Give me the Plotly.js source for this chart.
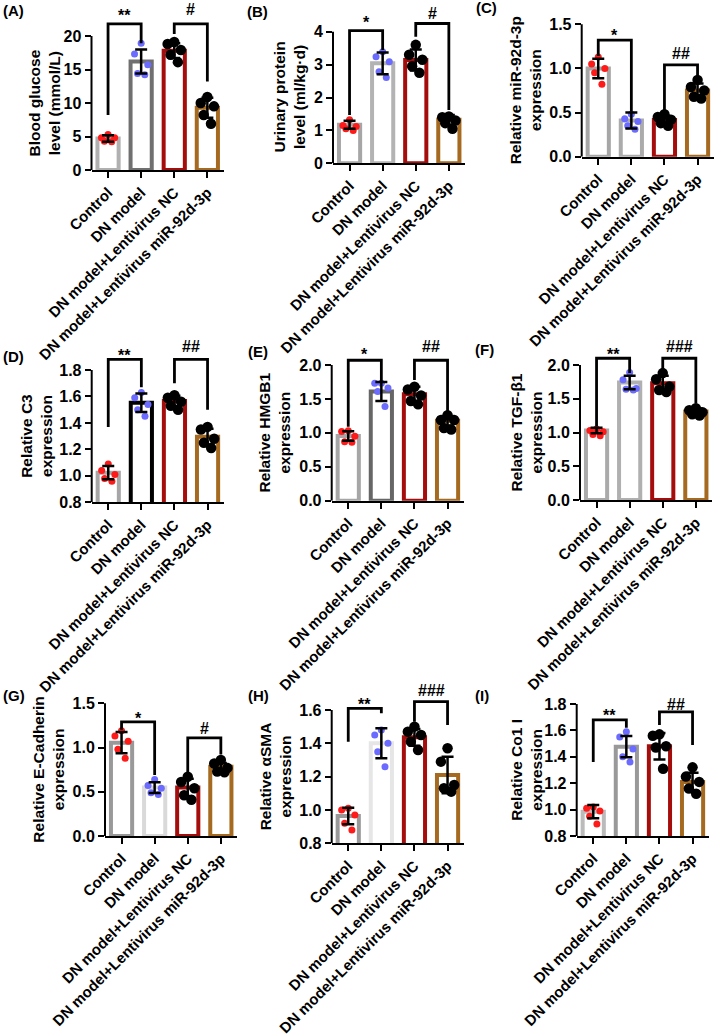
<!DOCTYPE html>
<html>
<head>
<meta charset="utf-8">
<script src="https://cdn.plot.ly/plotly-3.0.1.min.js"></script>
<style>body{margin:0;background:#fff}#chart{width:720px;height:1035px}</style>
</head>
<body>
<div id="chart"></div>
<script>
const groups = ['Control', 'DN model', 'DN model+Lentivirus NC', 'DN model+Lentivirus miR-92d-3p'];

// each panel: dots per group, bar mean, SD, brackets [from, to, leftEnd, rightEnd, top, labelY, label], y ticks
const glucoseDots = [[5.3, 4.8, 4.8, 4.3, 4.2], [18.9, 17.3, 15.7, 14.4, 14.2], [19.1, 18.8, 17.9, 17.2, 16.1], [10.9, 10.0, 9.5, 8.2, 6.9]];
const glucoseMean = [4.7, 16.2, 17.8, 9.3];
const glucoseSd = [0.5, 1.8, 1.1, 1.5];
const glucoseSig = [[0, 1, 8.2, 18.9, 21.8, 23.6, '**'], [2, 3, 20.3, 13.2, 21.8, 23.9, '#']];
const glucoseTicks = [0, 5, 10, 15, 20];

const proteinDots = [[1.32, 1.15, 1.12, 1.05, 1.0], [3.39, 3.24, 3.09, 2.78, 2.61], [3.6, 3.3, 3.15, 2.95, 2.75], [1.42, 1.40, 1.30, 1.22, 1.05]];
const proteinMean = [1.17, 3.04, 3.14, 1.32];
const proteinSd = [0.12, 0.33, 0.32, 0.15];
const proteinSig = [[0, 1, 1.47, 3.44, 4.03, 4.40, '*'], [2, 3, 3.85, 1.62, 4.25, 4.56, '#']];
const proteinTicks = [0, 1, 2, 3, 4];

const mirDots = [[1.13, 1.05, 1.0, 0.95, 0.82], [0.48, 0.43, 0.40, 0.35, 0.31], [0.48, 0.45, 0.42, 0.38, 0.35], [0.87, 0.79, 0.75, 0.68, 0.66]];
const mirMean = [1.0, 0.41, 0.415, 0.75];
const mirSd = [0.11, 0.09, 0.05, 0.08];
const mirSig = [[0, 1, 1.14, 0.51, 1.32, 1.42, '*'], [2, 3, 0.53, 0.91, 1.04, 1.17, '##']];
const mirTicks = [0, 0.5, 1.0, 1.5];

const c3Dots = [[1.09, 1.04, 1.01, 0.98, 0.96], [1.63, 1.59, 1.54, 1.50, 1.45], [1.61, 1.59, 1.56, 1.53, 1.50], [1.37, 1.35, 1.28, 1.25, 1.21]];
const c3Mean = [1.024, 1.553, 1.566, 1.296];
const c3Sd = [0.05, 0.07, 0.04, 0.06];
const c3Sig = [[0, 1, 1.37, 1.67, 1.88, 1.94, '**'], [2, 3, 1.70, 1.50, 1.88, 1.98, '##']];
const c3Ticks = [0.8, 1.0, 1.2, 1.4, 1.6, 1.8];

const hmgb1Dots = [[1.03, 1.02, 0.95, 0.87, 0.86], [1.73, 1.73, 1.66, 1.61, 1.39], [1.68, 1.64, 1.55, 1.47, 1.42], [1.26, 1.19, 1.19, 1.07, 1.05]];
const hmgb1Mean = [0.953, 1.61, 1.57, 1.18];
const hmgb1Sd = [0.07, 0.14, 0.11, 0.07];
const hmgb1Sig = [[0, 1, 1.09, 1.75, 2.07, 2.22, '*'], [2, 3, 1.78, 1.31, 2.07, 2.27, '##']];
const hmgb1Ticks = [0, 0.5, 1.0, 1.5, 2.0];

const tgfDots = [[1.05, 1.03, 1.01, 0.97, 0.95], [1.89, 1.78, 1.65, 1.64, 1.63], [1.88, 1.79, 1.68, 1.63, 1.60], [1.36, 1.33, 1.30, 1.27, 1.25]];
const tgfMean = [1.03, 1.74, 1.73, 1.31];
const tgfSd = [0.04, 0.1, 0.11, 0.05];
const tgfSig = [[0, 1, 1.09, 1.88, 2.10, 2.21, '**'], [2, 3, 1.93, 1.43, 2.10, 2.27, '###']];
const tgfTicks = [0, 0.5, 1.0, 1.5, 2.0];

const ecadDots = [[1.19, 1.13, 1.07, 0.98, 0.88], [0.64, 0.57, 0.54, 0.49, 0.47], [0.67, 0.61, 0.54, 0.46, 0.41], [0.86, 0.82, 0.77, 0.73, 0.72]];
const ecadMean = [1.055, 0.547, 0.547, 0.784];
const ecadSd = [0.12, 0.06, 0.1, 0.04];
const ecadSig = [[0, 1, 1.20, 0.69, 1.29, 1.37, '*'], [2, 3, 0.71, 0.92, 1.11, 1.22, '#']];
const ecadTicks = [0, 0.5, 1.0, 1.5];

const smaDots = [[1.01, 1.0, 0.97, 0.92, 0.88], [1.48, 1.45, 1.40, 1.35, 1.26], [1.50, 1.47, 1.45, 1.41, 1.36], [1.37, 1.29, 1.15, 1.13, 1.11]];
const smaMean = [0.964, 1.40, 1.436, 1.21];
const smaSd = [0.05, 0.09, 0.05, 0.11];
const smaSig = [[0, 1, 1.41, 1.58, 1.61, 1.66, '**'], [2, 3, 1.53, 1.51, 1.65, 1.72, '###']];
const smaTicks = [0.8, 1.0, 1.2, 1.4, 1.6];

const colDots = [[1.02, 1.01, 0.99, 0.95, 0.89], [1.59, 1.55, 1.46, 1.40, 1.36], [1.57, 1.56, 1.48, 1.47, 1.31], [1.32, 1.25, 1.21, 1.16, 1.12]];
const colMean = [0.984, 1.477, 1.48, 1.21];
const colSd = [0.05, 0.08, 0.1, 0.07];
const colSig = [[0, 1, 1.36, 1.62, 1.68, 1.74, '**'], [2, 3, 1.64, 1.49, 1.74, 1.80, '##']];
const colTicks = [0.8, 1.0, 1.2, 1.4, 1.6, 1.8];

const FONT = '"Liberation Sans", Arial, sans-serif';
const W = 720, H = 1035, plotW = 132.4;
const NC_COLOR = '#a50d0d', MIR_COLOR = '#a5691f';
const dotColor = ['#ff1a1a', '#6b6bff', '#000000', '#000000'];
const jitter = [0, -0.2, 0.2, -0.11, 0.11];

// ax: y-axis x pixel, y0: bottom pixel, yt: top tick pixel, tx: title offset, lx/ly: panel tag
const panels = [
  {tag: '(A)', title: 'Blood glucose<br>level (mmol/L)', dots: glucoseDots, mean: glucoseMean, sd: glucoseSd, sig: glucoseSig, ticks: glucoseTicks, dec: 0,
   edge: ['#b0b0b0', '#707070'], ax: 91.5, y0: 170, yt: 36, tx: -48, lx: 1, ly: 10},
  {tag: '(B)', title: 'Urinary protein<br>level (ml/kg·d)', dots: proteinDots, mean: proteinMean, sd: proteinSd, sig: proteinSig, ticks: proteinTicks, dec: 0,
   edge: ['#a6a6a6', '#b3b3b3'], ax: 333, y0: 163.3, yt: 31.7, tx: -44, lx: 245, ly: 11},
  {tag: '(C)', title: 'Relative miR-92d-3p<br>expression', dots: mirDots, mean: mirMean, sd: mirSd, sig: mirSig, ticks: mirTicks, dec: 1,
   edge: ['#a6a6a6', '#ababab'], ax: 581.7, y0: 156.7, yt: 24.3, tx: -56, lx: 474, ly: 8},
  {tag: '(D)', title: 'Relative C3<br>expression', dots: c3Dots, mean: c3Mean, sd: c3Sd, sig: c3Sig, ticks: c3Ticks, dec: 1,
   edge: ['#a6a6a6', '#000000'], ax: 91.7, y0: 502.3, yt: 370, tx: -56, lx: 1, ly: 356},
  {tag: '(E)', title: 'Relative HMGB1<br>expression', dots: hmgb1Dots, mean: hmgb1Mean, sd: hmgb1Sd, sig: hmgb1Sig, ticks: hmgb1Ticks, dec: 1,
   edge: ['#a6a6a6', '#666666'], ax: 331.7, y0: 500.7, yt: 365, tx: -57, lx: 246, ly: 351},
  {tag: '(F)', title: 'Relative TGF-β1<br>expression', dots: tgfDots, mean: tgfMean, sd: tgfSd, sig: tgfSig, ticks: tgfTicks, dec: 1,
   edge: ['#aaaaaa', '#b0b0b0'], ax: 580, y0: 500, yt: 365, tx: -54, lx: 473, ly: 350},
  {tag: '(G)', title: 'Relative E-Cadherin<br>expression', dots: ecadDots, mean: ecadMean, sd: ecadSd, sig: ecadSig, ticks: ecadTicks, dec: 1,
   edge: ['#999999', '#d9d9d9'], ax: 105, y0: 836, yt: 703.3, tx: -56, lx: 1, ly: 695},
  {tag: '(H)', title: 'Relative αSMA<br>expression', dots: smaDots, mean: smaMean, sd: smaSd, sig: smaSig, ticks: smaTicks, dec: 1,
   edge: ['#999999', '#e6e6e6'], ax: 331.7, y0: 843.3, yt: 710, tx: -56, lx: 246, ly: 695},
  {tag: '(I)', title: 'Relative Co1 I<br>expression', dots: colDots, mean: colMean, sd: colSd, sig: colSig, ticks: colTicks, dec: 1,
   edge: ['#bbbbbb', '#999999'], ax: 576.7, y0: 836, yt: 704, tx: -51, lx: 473, ly: 695}
];

const data = [], shapes = [], annotations = [];
const layout = {
  width: W, height: H, margin: {l: 0, r: 0, t: 0, b: 0},
  paper_bgcolor: '#ffffff', plot_bgcolor: 'rgba(0,0,0,0)', showlegend: false,
  font: {family: FONT, color: '#000'}
};

panels.forEach((p, k) => {
  const n = k ? String(k + 1) : '';
  const xa = 'x' + n, ya = 'y' + n;
  const lo = p.ticks[0], hi = p.ticks[p.ticks.length - 1];
  const topPx = Math.max(1, p.yt - 30);
  const rangeTop = lo + (hi - lo) * (p.y0 - topPx) / (p.y0 - p.yt);

  layout['xaxis' + n] = {
    domain: [p.ax / W, (p.ax + plotW) / W], anchor: ya, range: [-0.5, 3.5],
    showline: true, linewidth: 2, linecolor: '#000', showgrid: false, zeroline: false,
    ticks: 'outside', ticklen: 6, tickwidth: 2, tickcolor: '#000',
    tickvals: [0, 1, 2, 3], ticktext: groups, tickangle: -45,
    tickfont: {family: FONT, size: 15, color: '#000', weight: 'bold'}
  };
  layout['yaxis' + n] = {
    domain: [1 - p.y0 / H, 1 - topPx / H], anchor: xa, range: [lo, rangeTop],
    showline: false, showgrid: false, zeroline: false,
    ticks: 'outside', ticklen: 6, tickwidth: 2, tickcolor: '#000',
    tickvals: p.ticks, ticktext: p.ticks.map(v => v.toFixed(p.dec)),
    tickfont: {family: FONT, size: 16, color: '#000', weight: 'bold'}
  };

  data.push({
    type: 'bar', x: [0, 1, 2, 3], y: p.mean, width: 0.64, xaxis: xa, yaxis: ya,
    marker: {color: '#ffffff', line: {color: [p.edge[0], p.edge[1], NC_COLOR, MIR_COLOR], width: 4}},
    hoverinfo: 'skip'
  });

  p.dots.forEach((vals, g) => {
    data.push({
      type: 'scatter', mode: 'markers', xaxis: xa, yaxis: ya,
      x: vals.map((v, i) => g + jitter[i]), y: vals,
      marker: {color: dotColor[g], size: g < 2 ? 7 : 10.5},
      hoverinfo: 'skip'
    });
  });

  data.push({
    type: 'scatter', mode: 'markers', x: [0, 1, 2, 3], y: p.mean, xaxis: xa, yaxis: ya,
    marker: {size: 1, opacity: 0},
    error_y: {type: 'data', array: p.sd, visible: true, color: '#000', thickness: 2.5, width: 6},
    hoverinfo: 'skip'
  });

  p.sig.forEach(([i, j, lb, rb, top, ty, txt]) => {
    data.push({
      type: 'scatter', mode: 'lines', x: [i, i, j, j], y: [lb, top, top, rb], xaxis: xa, yaxis: ya,
      line: {color: '#000', width: 2.8}, hoverinfo: 'skip'
    });
    annotations.push({
      xref: xa, yref: ya, x: (i + j) / 2, y: ty, text: txt, showarrow: false,
      xanchor: 'center', yanchor: 'middle', yshift: txt.includes('*') ? -4 : 0,
      font: {family: FONT, size: 16, color: '#000', weight: 'bold'}
    });
  });

  // y axis line only over the tick range
  shapes.push({
    type: 'line', xref: xa + ' domain', yref: ya, x0: 0, x1: 0, y0: lo, y1: hi,
    line: {color: '#000', width: 2}
  });

  annotations.push({
    xref: xa + ' domain', yref: ya, x: 0, y: (lo + hi) / 2, xshift: p.tx,
    text: p.title, textangle: -90, showarrow: false, xanchor: 'center', yanchor: 'middle',
    font: {family: FONT, size: 15.5, color: '#000', weight: 'bold'}
  });

  annotations.push({
    xref: 'paper', yref: 'paper', x: p.lx / W, y: 1 - p.ly / H, text: p.tag, showarrow: false,
    xanchor: 'left', yanchor: 'middle',
    font: {family: FONT, size: 15, color: '#000', weight: 'bold'}
  });
});

layout.shapes = shapes;
layout.annotations = annotations;

Plotly.newPlot('chart', data, layout, {staticPlot: true, displayModeBar: false});
</script>
</body>
</html>
